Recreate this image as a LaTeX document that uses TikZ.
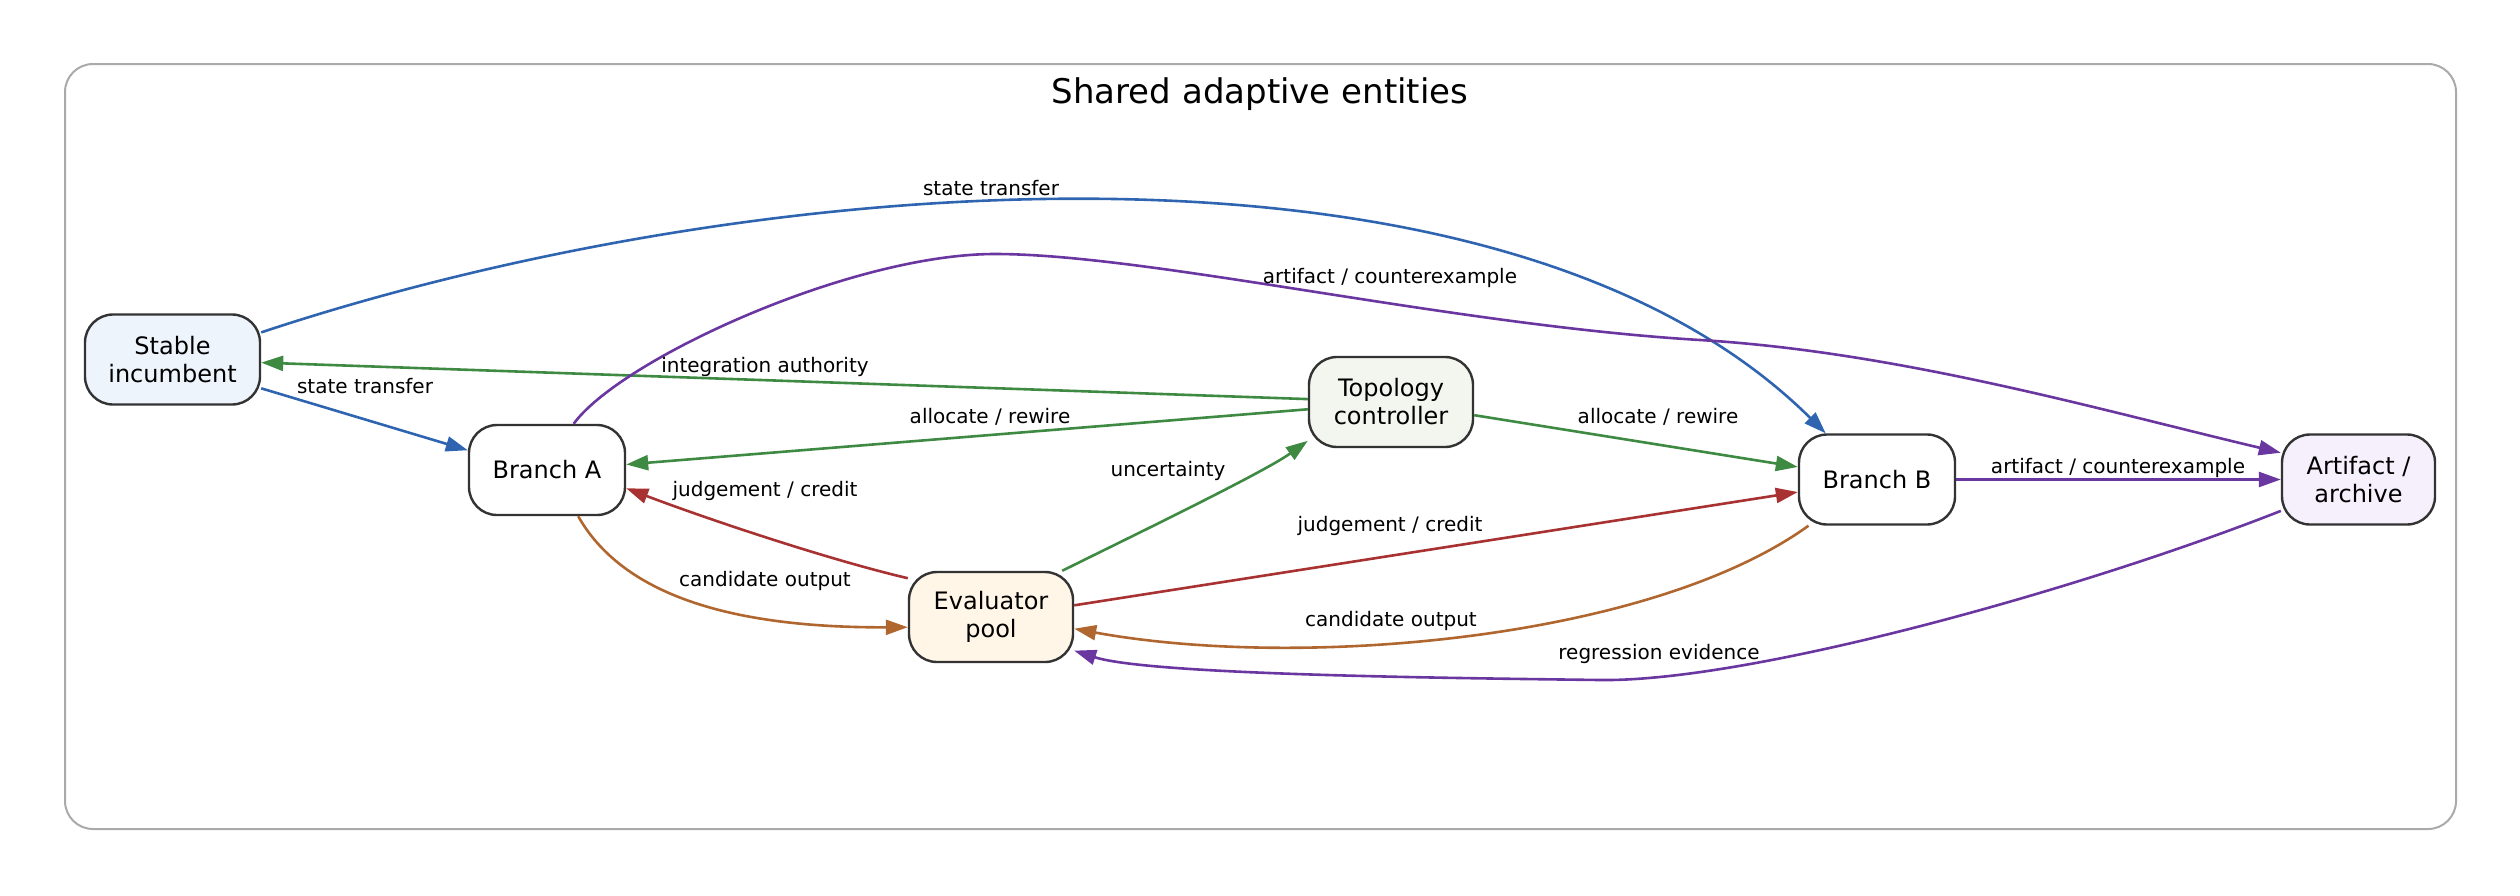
\documentclass[tikz,border=0pt]{standalone}
\usepackage{fontspec}
\setmainfont{DejaVu Sans}
\usetikzlibrary{arrows.meta,calc}
\definecolor{cblue}{HTML}{2F65B0}
\definecolor{cgreen}{HTML}{3F8A43}
\definecolor{cred}{HTML}{A83232}
\definecolor{cbrown}{HTML}{B0672F}
\definecolor{cpurple}{HTML}{6A36A0}
\definecolor{cborder}{HTML}{333333}
\definecolor{ccluster}{HTML}{AAAAAA}
\definecolor{fstable}{HTML}{EEF4FC}
\definecolor{ftopo}{HTML}{F3F6EE}
\definecolor{feval}{HTML}{FFF6E8}
\definecolor{fart}{HTML}{F5F0FB}
\begin{document}
\begin{tikzpicture}[x=0.5pt,y=-0.5pt,
  ent/.style={draw=cborder, line width=1.2pt, rounded corners=14pt, minimum height=45pt, align=center, font=\fontsize{12}{14}\selectfont, inner sep=0pt},
  lbl/.style={font=\fontsize{10}{12}\selectfont, anchor=base, inner sep=0pt},
  conn/.style={line width=1.3pt, -{Triangle[length=11pt,width=7.5pt]}},
]
\useasboundingbox (0,0) rectangle (2520,895);
\draw[draw=ccluster, line width=1pt, rounded corners=14pt] (65,64) rectangle (2456,829);
\node[font=\fontsize{17}{20}\selectfont, anchor=base] (title) at (1260,103) {Shared adaptive entities};

\node[ent, fill=fstable, minimum width=87.5pt] (stable) at (172.5,359.5) {Stable\\incumbent};
\node[ent, fill=white, minimum width=78pt] (brA) at (547,470) {Branch A};
\node[ent, fill=ftopo, minimum width=82pt] (topo) at (1391,402) {Topology\\controller};
\node[ent, fill=feval, minimum width=82pt] (eval) at (991,617) {Evaluator\\pool};
\node[ent, fill=white, minimum width=78pt] (brB) at (1877,479.5) {Branch B};
\node[ent, fill=fart, minimum width=76.5pt] (art) at (2358.5,479.5) {Artifact /\\archive};

\draw[conn, cblue] (stable.-18) -- (brA.166);
\draw[conn, cblue] (stable.17) .. controls (750,170) and (1500,110) .. (brB.138);
\draw[conn, cgreen] (topo.178) -- (stable.-2);
\draw[conn, cgreen] (topo.185) -- (brA.4);
\draw[conn, cgreen] (topo.-9) -- (brB.171);
\draw[conn, cgreen] (eval.33) .. controls (1122,541) and (1263,473) .. (topo.205);
\draw[conn, cred] (eval.155) .. controls (830,560) and (710,520) .. (brA.-13);
\draw[conn, cred] (eval.8) -- (brB.189);
\draw[conn, cbrown] (brA.-56) .. controls (620,590) and (720,628) .. (eval.187);
\draw[conn, cbrown] (brB.214) .. controls (1650,640) and (1300,670) .. (eval.-8);
\draw[conn, cpurple] (brB.east) -- (art.west);
\draw[conn, cpurple] (brA.60) .. controls (620,360) and (850,254) .. (995,254) .. controls (1150,254) and (1450,325) .. (1700,340) .. controls (1900,352) and (2100,410) .. (art.161);
\draw[conn, cpurple] (art.202) .. controls (2080,590) and (1750,682) .. (1600,680) .. controls (1450,678) and (1150,675) .. (eval.-22);

\node[lbl] (l1) at (365,393) {state transfer};
\node[lbl] (l2) at (991,195) {state transfer};
\node[lbl] (l3) at (765,372) {integration authority};
\node[lbl] (l4) at (990,423) {allocate / rewire};
\node[lbl] (l5) at (1658,423) {allocate / rewire};
\node[lbl] (l6) at (1168,476) {uncertainty};
\node[lbl] (l7) at (765,496) {judgement / credit};
\node[lbl] (l8) at (1390,531) {judgement / credit};
\node[lbl] (l9) at (765,586) {candidate output};
\node[lbl] (l10) at (1391,626) {candidate output};
\node[lbl] (l11) at (2118,473) {artifact / counterexample};
\node[lbl] (l12) at (1390,283) {artifact / counterexample};
\node[lbl] (l13) at (1659,659) {regression evidence};
\end{tikzpicture}
\end{document}
